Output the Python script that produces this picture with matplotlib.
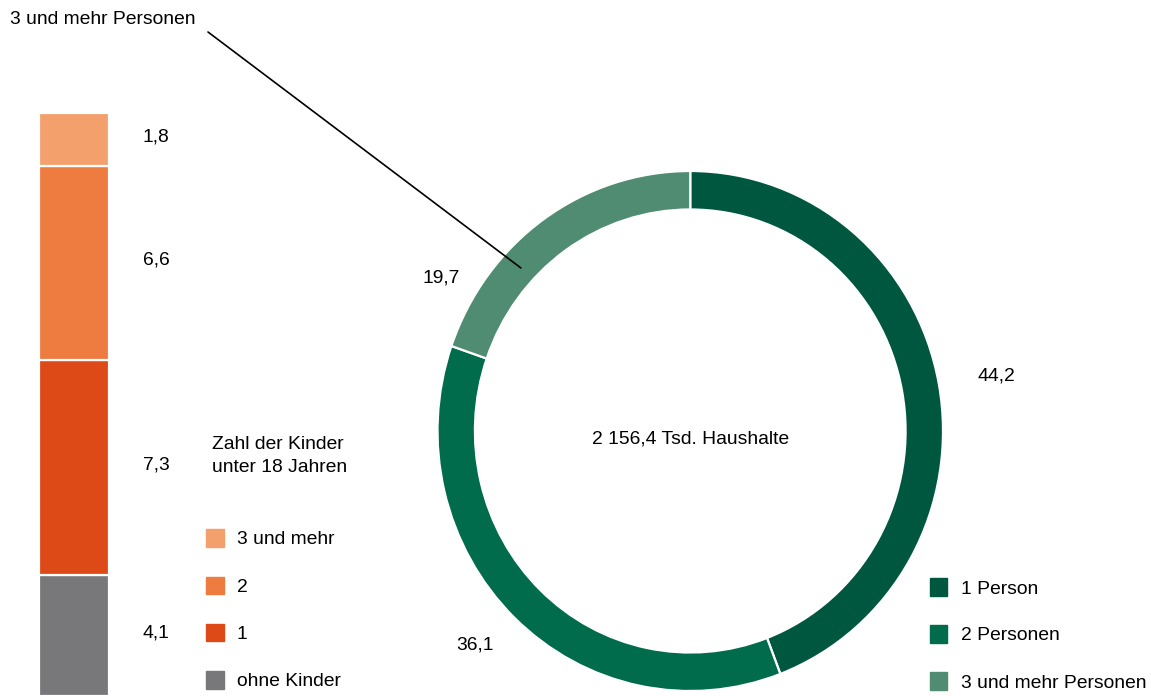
import matplotlib
matplotlib.use("Agg")
import matplotlib.pyplot as plt
from matplotlib.patches import Rectangle

# ── Daten ─────────────────────────────────────────────────────────────────────
ring_labels = ["1 Person", "2 Personen", "3 und mehr Personen"]
ring_values = [44.2, 36.1, 19.7]
ring_texts = ["44,2", "36,1", "19,7"]
ring_colors = ["#00573f", "#006c4b", "#508c72"]
center_text = "2 156,4 Tsd. Haushalte"

kids_labels = ["ohne Kinder", "1", "2", "3 und mehr"]
kids_values = [4.1, 7.3, 6.6, 1.8]
kids_texts = ["4,1", "7,3", "6,6", "1,8"]
kids_colors = ["#78787a", "#de4a17", "#ee7b3f", "#f3a06c"]
kids_title = "Zahl der Kinder\nunter 18 Jahren"

W, H = 1151, 696
FS = 13.9
plt.rcParams["font.family"] = ["Liberation Sans", "DejaVu Sans"]


def fx(px):
    return px / W


def fy(py):
    return 1 - py / H


fig = plt.figure(figsize=(W / 100, H / 100), dpi=100)

# ── Ring ──────────────────────────────────────────────────────────────────────
ax = fig.add_axes([fx(437.5), fy(691), (943 - 437.5) / W, (691 - 171) / H])
ax.pie(
    ring_values,
    colors=ring_colors,
    startangle=90,
    counterclock=False,
    radius=1,
    wedgeprops=dict(width=0.148, edgecolor="white", linewidth=1.6),
)
ax.set_aspect("auto")
ax.set_xlim(-1, 1)
ax.set_ylim(-1, 1)
ax.axis("off")

ring_text_pos = [(1.21, 0.21), (-0.85, -0.823), (-0.985, 0.59)]
for (x, y), t in zip(ring_text_pos, ring_texts):
    ax.text(x, y, t, ha="center", va="center", fontsize=FS, clip_on=False)
ax.text(0, -0.03, center_text, ha="center", va="center", fontsize=FS)

ax.annotate(
    "",
    xy=(-0.67, 0.627),
    xycoords="data",
    xytext=(fx(208), fy(32)),
    textcoords="figure fraction",
    arrowprops=dict(arrowstyle="-", color="black", lw=1.2, shrinkA=0, shrinkB=0),
)
fig.text(fx(10), fy(20), ring_labels[2], ha="left", va="center", fontsize=FS)

# ── Balken ────────────────────────────────────────────────────────────────────
bx = fig.add_axes([fx(39), 0, 70 / W, (696 - 113) / H])
bottom = 0.0
for v, c, t in zip(kids_values, kids_colors, kids_texts):
    bx.bar(0, v, width=1, bottom=bottom, color=c, edgecolor="white", linewidth=1.6)
    bx.annotate(t, (1.17, bottom + v / 2), xytext=(0, 5), textcoords="offset pixels",
                ha="center", va="center_baseline", fontsize=FS, annotation_clip=False)
    bottom += v
bx.set_xlim(-0.5, 0.5)
bx.set_ylim(0, sum(kids_values))
bx.axis("off")

# ── Legenden ──────────────────────────────────────────────────────────────────
fig.text(fx(212), fy(456), kids_title, ha="left", va="center",
         fontsize=FS, linespacing=1.5)

sq = 17.5
for i, (lab, c) in enumerate(zip(kids_labels[::-1], kids_colors[::-1])):
    yc = 538 + i * 47.3
    fig.add_artist(Rectangle((fx(206), fy(yc + sq / 2)), sq / W, sq / H,
                             transform=fig.transFigure, color=c))
    fig.text(fx(237), fy(yc), lab, ha="left", va="center_baseline", fontsize=FS)

for i, (lab, c) in enumerate(zip(ring_labels, ring_colors)):
    yc = 587 + i * 47
    fig.add_artist(Rectangle((fx(929.5), fy(yc + sq / 2)), sq / W, sq / H,
                             transform=fig.transFigure, color=c))
    fig.text(fx(961), fy(yc), lab, ha="left", va="center_baseline", fontsize=FS)

fig.savefig("out.png", dpi=100)
